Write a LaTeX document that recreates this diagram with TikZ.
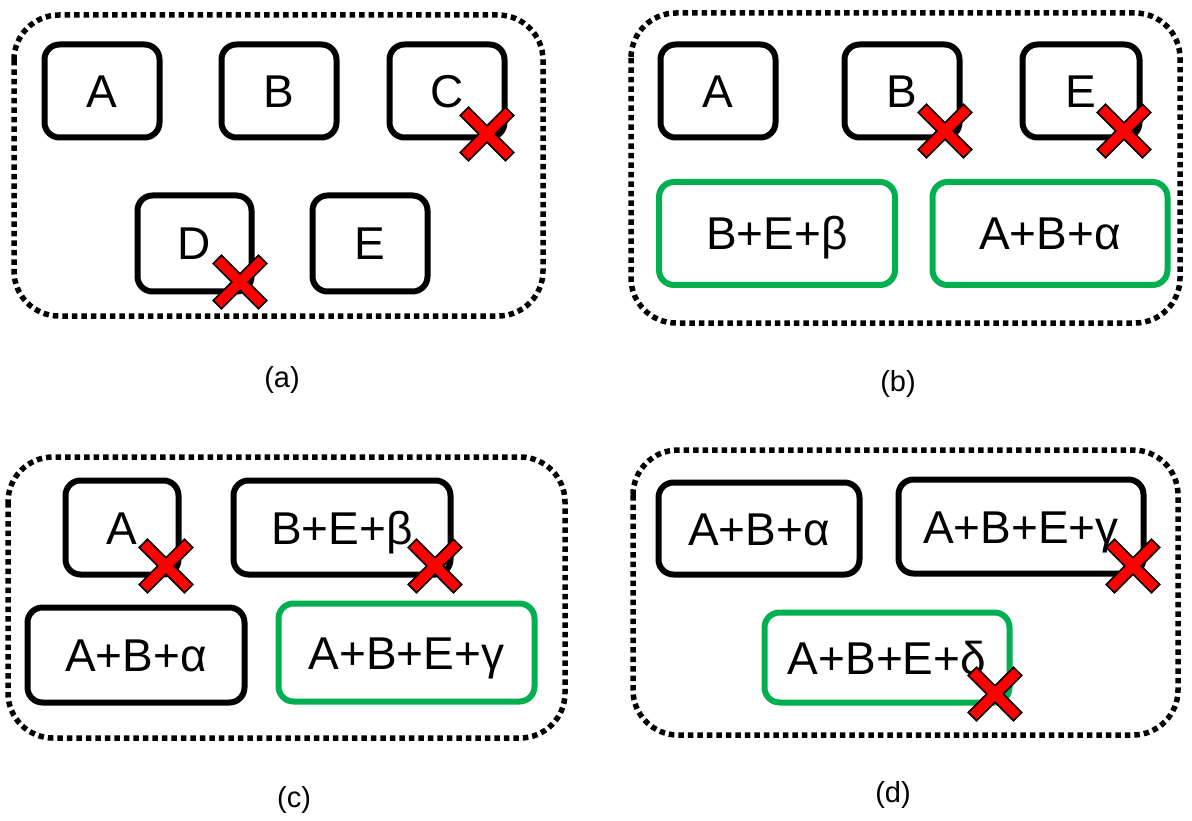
\documentclass[tikz,border=0pt]{standalone}
\usepackage{fontspec}
\setmainfont{Liberation Sans}
\definecolor{boxgreen}{RGB}{0,176,80}
\definecolor{xred}{RGB}{255,0,0}
\begin{document}
\begin{tikzpicture}[x=1pt,y=-1pt,
  panel/.style={draw=black, line width=5.5pt, dash pattern=on 5.5pt off 4pt, rounded corners=45pt},
  blk/.style={draw=black, line width=6pt, rounded corners=15pt, inner sep=0pt,
    font=\fontsize{46}{50}\selectfont, text height=33pt, text depth=0pt},
  grn/.style={blk, draw=boxgreen},
  captxt/.style={font=\fontsize{29}{32}\selectfont, inner sep=0pt},
  xmark/.pic={\draw[fill=xred, draw=black, line width=1.6pt, rotate=45]
     (-5.8,32) -- (5.8,32) -- (5.8,5.8) -- (32,5.8) -- (32,-5.8) -- (5.8,-5.8) -- (5.8,-32)
     -- (-5.8,-32) -- (-5.8,-5.8) -- (-32,-5.8) -- (-32,5.8) -- (-5.8,5.8) -- cycle;}
]
\useasboundingbox (0,0) rectangle (1192,821);

% ---------- panel (a)
\draw[panel] (14,15) rectangle (543,316);
\node[blk, minimum width=115pt, minimum height=93pt] (aA) at (102,91) {A};
\node[blk, minimum width=115pt, minimum height=93pt] (aB) at (279,91) {B};
\node[blk, minimum width=115pt, minimum height=93pt] (aC) at (447,91) {C};
\node[blk, minimum width=114pt, minimum height=96pt] (aD) at (194.5,243.5) {D};
\node[blk, minimum width=115pt, minimum height=96pt] (aE) at (370,243.5) {E};
\pic at (487,134) {xmark};
\pic at (240,282) {xmark};
\node[captxt] (la) at (282,380) {(a)};

% ---------- panel (b)
\draw[panel] (631,13) rectangle (1180,323);
\node[blk, minimum width=115pt, minimum height=93pt] (bA) at (718,91) {A};
\node[blk, minimum width=115pt, minimum height=93pt] (bB) at (902,91) {B};
\node[blk, minimum width=117pt, minimum height=93pt] (bE) at (1081,91) {E};
\node[grn, minimum width=236pt, minimum height=103pt] (bBE) at (777,233.5) {B+E+β};
\node[grn, minimum width=235pt, minimum height=103pt] (bAB) at (1050,233.5) {A+B+α};
\pic at (945,131) {xmark};
\pic at (1124,131) {xmark};
\node[captxt] (lb) at (898,384) {(b)};

% ---------- panel (c)
\draw[panel] (8,457) rectangle (565,738);
\node[blk, minimum width=113pt, minimum height=94pt] (cA) at (122,527.5) {A};
\node[blk, minimum width=217pt, minimum height=94pt] (cBE) at (342,527.5) {B+E+β};
\node[blk, minimum width=217pt, minimum height=95pt] (cAB) at (136,655) {A+B+α};
\node[grn, minimum width=256pt, minimum height=98pt] (cABE) at (406.5,652.5) {A+B+E+γ};
\pic at (166,566) {xmark};
\pic at (435,566) {xmark};
\node[captxt] (lc) at (294,800) {(c)};

% ---------- panel (d)
\draw[panel] (633,450) rectangle (1178,735);
\node[blk, minimum width=201pt, minimum height=92pt] (dAB) at (759,528.5) {A+B+α};
\node[blk, minimum width=245pt, minimum height=94pt] (dABE) at (1021,526.5) {A+B+E+γ};
\node[grn, minimum width=245pt, minimum height=90pt] (dABED) at (887,657.5) {A+B+E+δ};
\pic at (1133,566) {xmark};
\pic at (995,694) {xmark};
\node[captxt] (ld) at (893,795) {(d)};
\end{tikzpicture}
\end{document}
